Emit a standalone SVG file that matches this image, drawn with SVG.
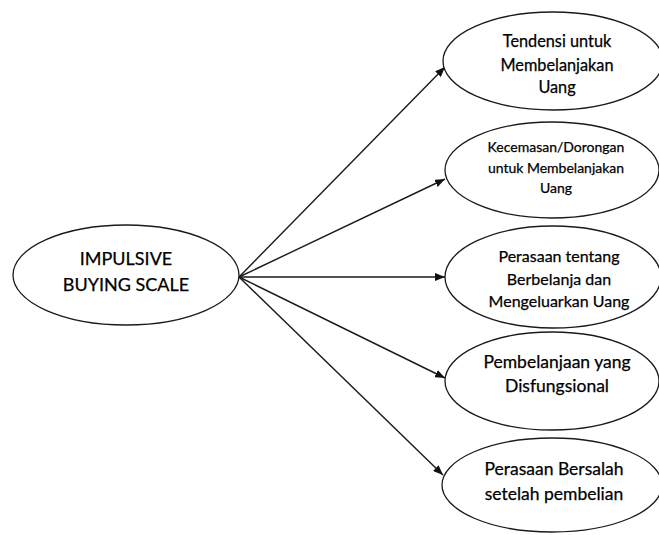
<svg xmlns="http://www.w3.org/2000/svg" width="659" height="535" viewBox="0 0 659 535">
<style>
.node ellipse{fill:#fff;stroke:#1a1a1a;stroke-width:1.3}
.node text{font-family:Lato,"Open Sans","Liberation Sans",sans-serif;fill:#000;stroke:#000;stroke-width:0.25;text-anchor:middle}
.edge{stroke:#1a1a1a;stroke-width:1.4;fill:none;marker-end:url(#ah)}
</style>
<defs>
<marker id="ah" viewBox="0 0 10 8" refX="10" refY="4" markerWidth="10" markerHeight="8" markerUnits="userSpaceOnUse" orient="auto">
<path d="M0,0 L10,4 L0,8 Z" fill="#111"/>
</marker>
</defs>
<rect width="659" height="535" fill="#fff"/>
<g id="connectors">
<line class="edge" x1="239" y1="277" x2="445" y2="67"/>
<line class="edge" x1="239" y1="277" x2="445" y2="179"/>
<line class="edge" x1="239" y1="277" x2="445" y2="277"/>
<line class="edge" x1="239" y1="277" x2="445" y2="378"/>
<line class="edge" x1="239" y1="277" x2="443" y2="475"/>
</g>
<g id="impulsive" class="node">
<ellipse cx="126" cy="275" rx="113" ry="50"/>
<text x="126" y="265" font-size="18">IMPULSIVE</text>
<text x="126" y="291" font-size="18">BUYING SCALE</text>
</g>
<g id="tendensi" class="node">
<ellipse cx="553" cy="61" rx="110" ry="49"/>
<text x="557" y="47" font-size="16.3">Tendensi untuk</text>
<text x="557" y="71" font-size="16.3">Membelanjakan</text>
<text x="557" y="93" font-size="16.3">Uang</text>
</g>
<g id="kecemasan" class="node">
<ellipse cx="552" cy="170" rx="107" ry="48"/>
<text x="556" y="152" font-size="14">Kecemasan/Dorongan</text>
<text x="556" y="173" font-size="14">untuk Membelanjakan</text>
<text x="556" y="193" font-size="14">Uang</text>
</g>
<g id="perasaan" class="node">
<ellipse cx="553" cy="277" rx="108" ry="51"/>
<text x="559" y="262" font-size="16">Perasaan tentang</text>
<text x="559" y="285" font-size="16">Berbelanja dan</text>
<text x="559" y="307" font-size="16">Mengeluarkan Uang</text>
</g>
<g id="disfungsional" class="node">
<ellipse cx="552" cy="381" rx="107" ry="49"/>
<text x="557" y="368" font-size="17.5">Pembelanjaan yang</text>
<text x="557" y="392" font-size="17.5">Disfungsional</text>
</g>
<g id="bersalah" class="node">
<ellipse cx="552" cy="485" rx="110" ry="47"/>
<text x="554" y="475" font-size="17.5">Perasaan Bersalah</text>
<text x="554" y="500" font-size="17.5">setelah pembelian</text>
</g>
</svg>
